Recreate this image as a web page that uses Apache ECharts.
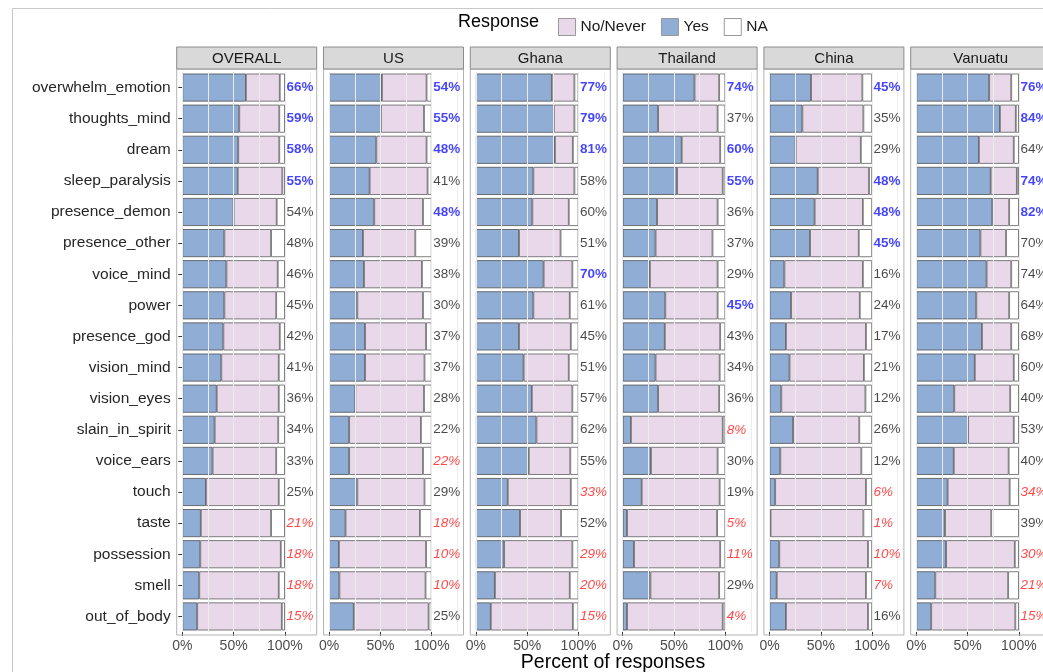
<!DOCTYPE html>
<html>
<head>
<meta charset="utf-8">
<script src="https://cdn.jsdelivr.net/npm/echarts@6/dist/echarts.min.js"></script>
<style>
  html,body{margin:0;padding:0;background:#fff;}
  #chart{width:1043px;height:672px;}
</style>
</head>
<body>
<div id="chart"></div>
<script>
// categories, top to bottom
var cats = ['overwhelm_emotion','thoughts_mind','dream','sleep_paralysis','presence_demon','presence_other',
  'voice_mind','power','presence_god','vision_mind','vision_eyes','slain_in_spirit','voice_ears','touch',
  'taste','possession','smell','out_of_body'];
var facets = ['OVERALL','US','Ghana','Thailand','China','Vanuatu'];
var xTicks = [0, 50, 100];

// share of responses (%) per facet: Yes / No-Never / NA
var yesOverall = [62,55.5,54.5,54,50,41,43,41,40,38,33.5,31.5,29.5,23,18,17.5,16.5,14.5];
var noOverall  = [33,39,40,43.5,42,45.5,50,50.5,55,56,60.5,62,62,71,68.5,78.5,77.5,82.5];
var naOverall  = [5,5.5,5.5,2.5,8,13.5,7,8.5,5,6,6,6.5,8.5,6,13.5,4,6,3];

var yesUS = [51.5,50.5,46,39.5,44,33,34,27.5,35,35,25.5,19.5,19.5,27.5,16,9.5,10,24];
var noUS  = [43.5,42,49,56.5,47.5,51,56.5,64,59.5,58,67,70,72,65.5,72.5,85,84,73];
var naUS  = [5,7.5,5,4,8.5,16,9.5,8.5,5.5,7,7.5,10.5,8.5,7,11.5,5.5,6,3];

var yesGhana = [74,76,77,56,55,42,66,56,42,46.5,54.5,59,51.5,31,43,27.5,18.5,14.5];
var noGhana  = [22,20,17.5,40,35.5,40.5,28,35.5,50.5,44,39.5,35,40.5,61.5,40,66.5,73,80];
var naGhana  = [4,4,5.5,4,9.5,17.5,6,8.5,7.5,9.5,6,6,8,7.5,17,6,8.5,5.5];

var yesThailand = [70,34.5,57.5,53,33.5,32,26.5,41.5,41,32,34.5,8,27.5,18.5,4.2,11,27,4.2];
var noThailand  = [24,58,37.5,44.5,59,55.5,66,51,54,62.5,59.5,89.5,65,76,87.8,84,67,93.3];
var naThailand  = [6,7.5,5,2.5,7.5,12.5,7.5,7.5,5,5.5,6,2.5,7.5,5.5,8,5,6,2.5];

var yesChina = [40.5,32,25.5,47,44,39.5,14.5,21,16,19.5,11.5,23,10.5,5.5,1,9.5,7,16];
var noChina  = [50,59.5,63.5,50,47,47.5,76.5,67,78,72.5,82,64.5,79,88.5,90.5,86.5,87,80];
var naChina  = [9.5,8.5,11,3,9,13,9,12,6,8,6.5,12.5,10.5,6,8.5,4,6,4];

var yesVanuatu = [71,81.5,61,72.5,74,62.5,68.5,58.5,64,57,37,50.5,36.5,30.5,28,29,18.5,14.5];
var noVanuatu  = [21.5,15.5,34,25.5,16.5,25,24,32,28.5,38,54.5,44.5,53.5,60.5,45,67,71,82];
var naVanuatu  = [7.5,3,5,2,9.5,12.5,7.5,9.5,7.5,5,8.5,5,10,9,27,4,10.5,3.5];

// printed labels (% yes among answered) and their emphasis: h = high, l = low, n = plain
var lblOverall  = [66,59,58,55,54,48,46,45,42,41,36,34,33,25,21,18,18,15];
var lblUS       = [54,55,48,41,48,39,38,30,37,37,28,22,22,29,18,10,10,25];
var lblGhana    = [77,79,81,58,60,51,70,61,45,51,57,62,55,33,52,29,20,15];
var lblThailand = [74,37,60,55,36,37,29,45,43,34,36,8,30,19,5,11,29,4];
var lblChina    = [45,35,29,48,48,45,16,24,17,21,12,26,12,6,1,10,7,16];
var lblVanuatu  = [76,84,64,74,82,70,74,64,68,60,40,53,40,34,39,30,21,15];

var styOverall  = ['h','h','h','h','n','n','n','n','n','n','n','n','n','n','l','l','l','l'];
var styUS       = ['h','h','h','n','h','n','n','n','n','n','n','n','l','n','l','l','l','n'];
var styGhana    = ['h','h','h','n','n','n','h','n','n','n','n','n','n','l','n','l','l','l'];
var styThailand = ['h','n','h','h','n','n','n','h','n','n','n','l','n','n','l','l','n','l'];
var styChina    = ['h','n','n','h','h','h','n','n','n','n','n','n','n','l','l','l','l','n'];
var styVanuatu  = ['h','h','n','h','h','n','n','n','n','n','n','n','n','l','n','l','l','l'];

var yesAll = [yesOverall, yesUS, yesGhana, yesThailand, yesChina, yesVanuatu];
var noAll  = [noOverall, noUS, noGhana, noThailand, noChina, noVanuatu];
var naAll  = [naOverall, naUS, naGhana, naThailand, naChina, naVanuatu];
var lblAll = [lblOverall, lblUS, lblGhana, lblThailand, lblChina, lblVanuatu];
var styAll = [styOverall, styUS, styGhana, styThailand, styChina, styVanuatu];

var FONT = '"Liberation Sans", Arial, sans-serif';
var panelLeft = 176.7, panelStep = 146.8, panelW = 140;
var panelTop = 69, panelBottom = 635, stripTop = 47;
var gridTop = 72, gridH = 560;
// x scale: panel spans -5.5 .. 131 over 140px; the grid is made wider so labels are not clipped
var xMin = -5.5, pxPerUnit = panelW / 136.5, gridW = 175;
var xMax = xMin + gridW / pxPerUnit;
var C_YES = '#8fadd5', C_NO = '#e8d8ea', C_NA = '#ffffff';

var chart = echarts.init(document.getElementById('chart'));

var grids = [], xAxes = [], yAxes = [], series = [], graphics = [];

facets.forEach(function(f, i){
  var left = panelLeft + i * panelStep;
  grids.push({left: left, top: gridTop, width: gridW, height: gridH,
    containLabel: false, outerBoundsMode: 'none'});
  xAxes.push({
    type: 'value', gridIndex: i, min: xMin, max: xMax,
    splitLine: {show: false},
    axisLine: {show: false},
    axisTick: {show: true, customValues: xTicks, length: 4, lineStyle: {color: '#333', width: 1}},
    axisLabel: {customValues: xTicks, formatter: '{value}%', margin: 7,
      fontFamily: FONT, fontSize: 14, color: '#4d4d4d'}
  });
  yAxes.push({
    type: 'category', gridIndex: i, data: cats, inverse: true,
    axisLine: {show: false},
    axisTick: {show: i === 0, length: 4, alignWithLabel: true, lineStyle: {color: '#333'}},
    axisLabel: {show: i === 0, fontFamily: FONT, fontSize: 15.5, color: '#262626', margin: 6},
    splitLine: {show: false}
  });

  // light vertical grid lines
  series.push({
    type: 'line', xAxisIndex: i, yAxisIndex: i, data: [], silent: true, z: 0,
    markLine: {
      silent: true, symbol: 'none', label: {show: false},
      lineStyle: {color: '#ececec', width: 1, type: 'solid'},
      data: [0, 25, 50, 75, 100, 125].map(function(v){ return {xAxis: v}; })
    }
  });

  var bar = {
    type: 'bar', xAxisIndex: i, yAxisIndex: i, stack: 's' + i,
    barCategoryGap: '10%', z: 2, silent: true
  };
  series.push(Object.assign({}, bar, {name: 'Yes', data: yesAll[i],
    itemStyle: {color: C_YES, borderColor: '#505050', borderWidth: 0.8}}));
  series.push(Object.assign({}, bar, {name: 'No/Never', data: noAll[i],
    itemStyle: {color: C_NO, borderColor: '#606060', borderWidth: 0.8}}));
  series.push(Object.assign({}, bar, {name: 'NA', data: naAll[i],
    itemStyle: {color: C_NA, borderColor: '#606060', borderWidth: 0.8}}));

  // percentage labels to the right of each bar
  series.push({
    type: 'scatter', xAxisIndex: i, yAxisIndex: i, symbolSize: 0, silent: true, z: 5, clip: false,
    data: lblAll[i].map(function(v, k){
      var s = styAll[i][k];
      return {
        value: [100, cats[k]],
        label: {
          show: true, position: 'right', distance: 1.5, overflow: 'none',
          formatter: v + '%', fontFamily: FONT, fontSize: 13.5,
          color: s === 'h' ? '#1515ff' : (s === 'l' ? '#ff1a1a' : '#1a1a1a'),
          fontWeight: s === 'h' ? 'bold' : 'normal',
          fontStyle: s === 'l' ? 'italic' : 'normal'
        }
      };
    })
  });

  // panel frame and facet strip
  graphics.push({type: 'rect', z: 100, silent: true,
    shape: {x: left, y: panelTop, width: panelW, height: panelBottom - panelTop},
    style: {fill: 'none', stroke: '#b3b3b3', lineWidth: 1}});
  graphics.push({type: 'rect', z: 100, silent: true,
    shape: {x: left, y: stripTop, width: panelW, height: panelTop - stripTop},
    style: {fill: '#d9d9d9', stroke: '#8c8c8c', lineWidth: 1}});
  graphics.push({type: 'text', z: 101, silent: true,
    x: left + panelW / 2, y: (stripTop + panelTop) / 2 + 1,
    style: {text: f, fill: '#1a1a1a', font: '15px ' + FONT, align: 'center', verticalAlign: 'middle'}});
});

// outer frame of the plot image
graphics.push({type: 'rect', z: 0, silent: true,
  shape: {x: 12.5, y: 8.5, width: 1100, height: 700},
  style: {fill: 'none', stroke: '#c8c8c8', lineWidth: 1}});
graphics.push({type: 'text', silent: true, x: 458, y: 22,
  style: {text: 'Response', fill: '#000', font: '18px ' + FONT, verticalAlign: 'middle'}});
graphics.push({type: 'text', silent: true, x: 613, y: 663,
  style: {text: 'Percent of responses', fill: '#000', font: '19.5px ' + FONT, align: 'center', verticalAlign: 'middle'}});

chart.setOption({
  animation: false,
  backgroundColor: '#fff',
  legend: {
    data: ['No/Never', 'Yes', 'NA'],
    left: 553, top: 13, icon: 'rect', itemWidth: 17, itemHeight: 17, itemGap: 15,
    itemStyle: {borderColor: '#999', borderWidth: 1},
    textStyle: {fontFamily: FONT, fontSize: 15.5, color: '#1a1a1a'},
    selectedMode: false
  },
  grid: grids,
  xAxis: xAxes,
  yAxis: yAxes,
  series: series,
  graphic: graphics
});
</script>
</body>
</html>
